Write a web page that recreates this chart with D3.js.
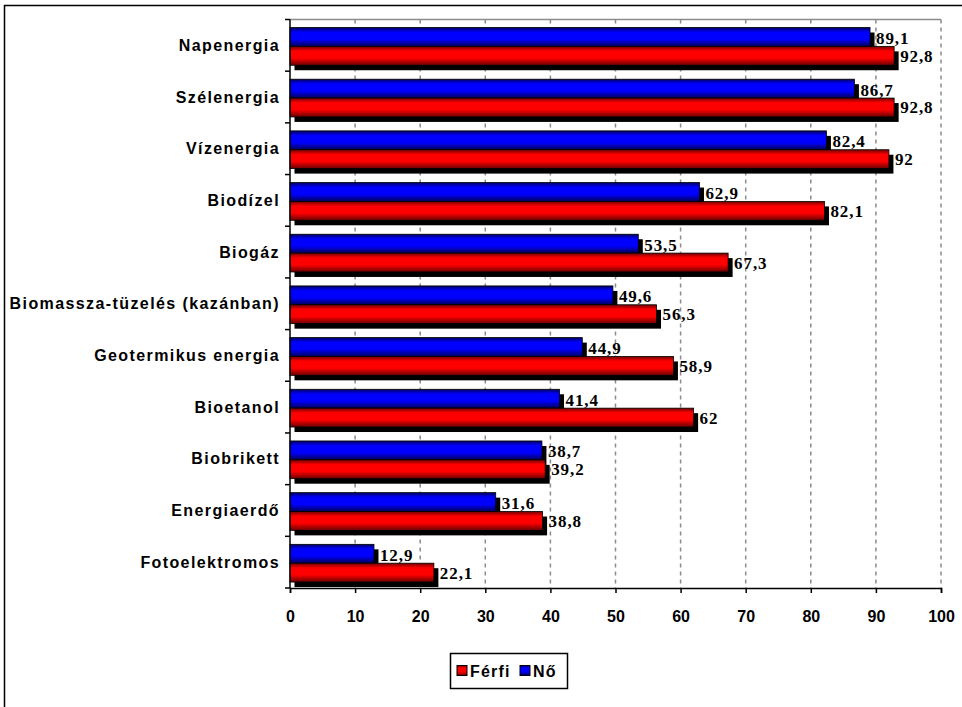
<!DOCTYPE html>
<html>
<head>
<meta charset="utf-8">
<script src="https://cdn.jsdelivr.net/npm/d3@7"></script>
<style>
  html, body { margin: 0; padding: 0; background: #fff; }
  svg { display: block; }
</style>
</head>
<body>
<svg id="chart" width="962" height="707"></svg>
<script>
// Renewable energy sources, share known by respondents (%), by sex
const categories = [
  "Napenergia", "Szélenergia", "Vízenergia", "Biodízel", "Biogáz",
  "Biomassza-tüzelés (kazánban)", "Geotermikus energia", "Bioetanol",
  "Biobrikett", "Energiaerdő", "Fotoelektromos"
];
const noValues    = [89.1, 86.7, 82.4, 62.9, 53.5, 49.6, 44.9, 41.4, 38.7, 31.6, 12.9];
const ferfiValues = [92.8, 92.8, 92.0, 82.1, 67.3, 56.3, 58.9, 62.0, 39.2, 38.8, 22.1];
const seriesNames = ["Nő", "Férfi"];
const xTicks = [0, 10, 20, 30, 40, 50, 60, 70, 80, 90, 100];

const svg = d3.select("#chart");
const sans = "'Liberation Sans', Arial, sans-serif";
const serif = "'Liberation Serif', 'Times New Roman', serif";

// outer frame
svg.append("path")
  .attr("d", "M4.5,707 V5.5 H962")
  .attr("fill", "none").attr("stroke", "#000").attr("stroke-width", 1.5);

const plot = { left: 290, right: 941, top: 19.5, bottom: 588 };

const x = d3.scaleLinear().domain([0, 100]).range([plot.left, plot.right]);
const y = d3.scaleBand().domain(categories).range([plot.top, plot.bottom]).padding(0);
const bw = y.bandwidth();
const ySub = d3.scaleBand().domain(seriesNames).range([bw * 0.155, bw * 0.885]).padding(0);

// gradients
const defs = svg.append("defs");
function grad(id, dark, bright, dark2) {
  const g = defs.append("linearGradient").attr("id", id)
    .attr("x1", 0).attr("y1", 0).attr("x2", 0).attr("y2", 1);
  g.append("stop").attr("offset", "0%").attr("stop-color", dark);
  g.append("stop").attr("offset", "25%").attr("stop-color", bright);
  g.append("stop").attr("offset", "62%").attr("stop-color", bright);
  g.append("stop").attr("offset", "100%").attr("stop-color", dark2);
}
grad("gBlue", "#000060", "#0000ff", "#000058");
grad("gRed", "#700000", "#ff0000", "#680000");
const fills = { "Nő": "url(#gBlue)", "Férfi": "url(#gRed)" };

// plot frame: top border solid grey, gridlines dashed grey
svg.append("line")
  .attr("x1", plot.left).attr("x2", plot.right)
  .attr("y1", plot.top).attr("y2", plot.top)
  .attr("stroke", "#8c8c8c").attr("stroke-width", 1.5);

svg.append("g").selectAll("line")
  .data(xTicks.filter(d => d > 0))
  .join("line")
  .attr("x1", d => x(d)).attr("x2", d => x(d))
  .attr("y1", plot.top).attr("y2", plot.bottom)
  .attr("stroke", "#8c8c8c").attr("stroke-width", 1.5)
  .attr("stroke-dasharray", "4,4");

// rows of data
const rows = categories.map((c, i) => ({ cat: c, vals: [
  { s: "Nő", v: noValues[i] },
  { s: "Férfi", v: ferfiValues[i] }
]}));

const sdx = 4.5, sdy = 5;
const groups = svg.append("g").selectAll("g")
  .data(rows).join("g")
  .attr("transform", d => `translate(0,${y(d.cat)})`);

// shadows
groups.selectAll("rect.shadow")
  .data(d => d.vals).join("rect")
  .attr("class", "shadow")
  .attr("x", x(0) + sdx)
  .attr("y", d => ySub(d.s) + sdy)
  .attr("width", d => x(d.v) - x(0))
  .attr("height", ySub.bandwidth())
  .attr("fill", "#000");

// bars
groups.selectAll("rect.bar")
  .data(d => d.vals).join("rect")
  .attr("class", "bar")
  .attr("x", x(0))
  .attr("y", d => ySub(d.s))
  .attr("width", d => x(d.v) - x(0))
  .attr("height", ySub.bandwidth())
  .attr("fill", d => fills[d.s])
  .attr("stroke", "#000").attr("stroke-width", 0.8);

// value labels
groups.selectAll("text.val")
  .data(d => d.vals).join("text")
  .attr("class", "val")
  .attr("x", d => x(d.v) + sdx + 1.5)
  .attr("y", d => ySub(d.s) + ySub.bandwidth() / 2 + (d.s === "Nő" ? 1.5 : 0.5))
  .attr("dominant-baseline", "central")
  .attr("font-family", serif).attr("font-weight", "bold")
  .attr("font-size", 17).attr("letter-spacing", 0.9)
  .attr("fill", "#000")
  .text(d => String(d.v).replace(".", ","));

// y axis
const yAxis = svg.append("g");
yAxis.append("line")
  .attr("x1", plot.left).attr("x2", plot.left)
  .attr("y1", plot.top).attr("y2", plot.bottom)
  .attr("stroke", "#000").attr("stroke-width", 1.5);
yAxis.selectAll("line.tk")
  .data(d3.range(categories.length + 1)).join("line")
  .attr("class", "tk")
  .attr("x1", plot.left - 5).attr("x2", plot.left)
  .attr("y1", i => plot.top + i * bw).attr("y2", i => plot.top + i * bw)
  .attr("stroke", "#000").attr("stroke-width", 1.5);
yAxis.selectAll("text")
  .data(categories).join("text")
  .attr("x", plot.left - 10)
  .attr("y", d => y(d) + bw / 2)
  .attr("dominant-baseline", "central")
  .attr("text-anchor", "end")
  .attr("font-family", sans).attr("font-weight", "bold")
  .attr("font-size", 16).attr("letter-spacing", 1.4)
  .attr("fill", "#000")
  .text(d => d);

// x axis
const xAxis = svg.append("g")
  .attr("transform", `translate(0,${plot.bottom})`)
  .call(d3.axisBottom(x).tickValues(xTicks).tickSize(5).tickPadding(18).tickFormat(d3.format("d")));
xAxis.select(".domain").attr("stroke", "#000").attr("stroke-width", 1.5);
xAxis.selectAll(".tick line").attr("stroke", "#000").attr("stroke-width", 1.5);
xAxis.selectAll(".tick text")
  .attr("font-family", sans).attr("font-weight", "bold")
  .attr("font-size", 16).attr("letter-spacing", 0)
  .attr("fill", "#000");

// legend
const legendSeries = [
  { name: "Férfi", fill: "url(#gRed)" },
  { name: "Nő", fill: "url(#gBlue)" }
];
const lg = svg.append("g").attr("transform", "translate(450,653)");
lg.append("rect")
  .attr("x", 0.5).attr("y", 0.5).attr("width", 117).attr("height", 35)
  .attr("fill", "#fff").attr("stroke", "#000").attr("stroke-width", 1.5);
const offsets = [7, 70];
const items = lg.selectAll("g.item").data(legendSeries).join("g")
  .attr("class", "item")
  .attr("transform", (d, i) => `translate(${offsets[i]},0)`);
items.append("rect")
  .attr("x", 0).attr("y", 12.5).attr("width", 10).attr("height", 10)
  .attr("fill", d => d.fill).attr("stroke", "#000").attr("stroke-width", 1);
items.append("text")
  .attr("x", 13).attr("y", 18)
  .attr("dominant-baseline", "central")
  .attr("font-family", sans).attr("font-weight", "bold")
  .attr("font-size", 16).attr("letter-spacing", 1.2)
  .attr("fill", "#000")
  .text(d => d.name);
</script>
</body>
</html>
